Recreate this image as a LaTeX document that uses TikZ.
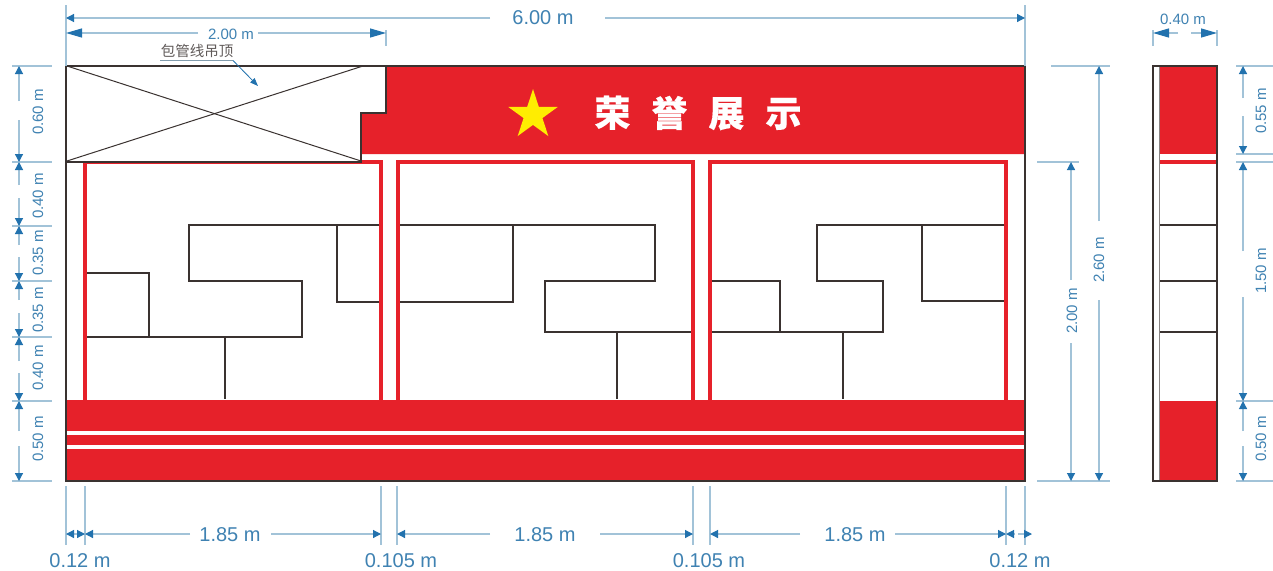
\documentclass[tikz,border=0pt]{standalone}
\usepackage{fontspec}
\setmainfont{Liberation Sans}
\newfontfamily\cjk{Noto Sans CJK SC}
\newfontfamily\cjkheavy[BoldFeatures={FakeBold=0.4}]{Noto Sans CJK SC}
\usetikzlibrary{arrows.meta,shapes.geometric}
\definecolor{signred}{HTML}{E6212A}
\definecolor{ink}{HTML}{3A3230}
\definecolor{dimline}{HTML}{A2C3D8}
\definecolor{dimhead}{HTML}{2272AE}
\definecolor{dimtext}{HTML}{3F82B2}
\tikzset{
  x=1pt,y=-1pt,
  dimln/.style={draw=dimline,line width=1.2pt},
  head/.style={-{Triangle[length=8pt,width=8pt,color=dimhead]}},
  bighead/.style={-{Triangle[length=16pt,width=9pt,color=dimhead]}},
  extl/.style={draw=dimline,line width=1.1pt},
  bigtxt/.style={text=dimtext,font=\fontsize{20}{20}\selectfont,inner sep=0pt},
  smalltxt/.style={text=dimtext,font=\fontsize{15}{15}\selectfont,inner sep=0pt},
  vtxt/.style={smalltxt,rotate=90},
  outline/.style={draw=ink,line width=2.7pt},
  shelf/.style={draw=ink,line width=2.5pt},
  frame/.style={draw=signred,line width=4.5pt},
  stripe/.style={fill=white,draw=none}
}
% id, x, y1, y2, gap start, gap end: a two-part vertical dimension line
\newcommand\vdimline[6]{%
  \coordinate (#1a) at (#2,#3);
  \coordinate (#1b) at (#2,#5);
  \coordinate (#1c) at (#2,#6);
  \coordinate (#1d) at (#2,#4);
  \draw[dimln,head] (#1b) -- (#1a);
  \draw[dimln,head] (#1c) -- (#1d);
}
% id, y, x1, x2, gap start, gap end, style
\newcommand\hdimline[7]{%
  \coordinate (#1a) at (#3,#2);
  \coordinate (#1b) at (#5,#2);
  \coordinate (#1c) at (#6,#2);
  \coordinate (#1d) at (#4,#2);
  \draw[dimln,#7] (#1b) -- (#1a);
  \draw[dimln,#7] (#1c) -- (#1d);
}
% id, x1, y1, x2, y2: extension line
\newcommand\extline[5]{%
  \coordinate (#1s) at (#2,#3);
  \coordinate (#1e) at (#4,#5);
  \draw[extl] (#1s) -- (#1e);
}
\begin{document}
\begin{tikzpicture}
\useasboundingbox[fill=white] (0,0) rectangle (1273,570);
% ---------- main elevation
\fill[signred] (386,66) -- (1025,66) -- (1025,154) -- (361,154) -- (361,113) -- (386,113) -- cycle;
\draw[frame] (85,400) -- (85,162) -- (381,162) -- (381,400);
\draw[frame] (398,400) -- (398,162) -- (693,162) -- (693,400);
\draw[frame] (710,400) -- (710,162) -- (1006,162) -- (1006,400);
\fill[signred] (66,400) rectangle (1025,481);
\fill[stripe] (67,431) rectangle (1024,435);
\fill[stripe] (67,445) rectangle (1024,449);
% shelves, bay 1
\draw[shelf] (87,273) -- (149,273) -- (149,337);
\draw[shelf] (379,225) -- (189,225) -- (189,281) -- (302,281) -- (302,337) -- (87,337);
\draw[shelf] (337,225) -- (337,302) -- (379,302);
\draw[shelf] (225,337) -- (225,399);
% shelves, bay 2
\draw[shelf] (400,225) -- (655,225) -- (655,281) -- (545,281) -- (545,332) -- (691,332);
\draw[shelf] (513,225) -- (513,302) -- (400,302);
\draw[shelf] (617,332) -- (617,399);
% shelves, bay 3
\draw[shelf] (1004,225) -- (817,225) -- (817,281) -- (883,281) -- (883,332) -- (712,332);
\draw[shelf] (712,281) -- (780,281) -- (780,332);
\draw[shelf] (922,225) -- (922,301) -- (1004,301);
\draw[shelf] (843,332) -- (843,399);
% ceiling box
\draw[outline,fill=white] (66,66) -- (386,66) -- (386,113) -- (361,113) -- (361,162) -- (66,162) -- cycle;
\draw[ink,line width=1pt] (67,66) -- (361,161);
\draw[ink,line width=1pt] (67,161) -- (363,66);
\draw[outline] (66,66) rectangle (1025,481);
% title
\node[star,star points=5,star point ratio=2.62,fill=yellow!95!orange,draw=none,minimum size=52pt,inner sep=0pt] (star) at (533,115) {};
\node[text=white,inner sep=0pt,font=\cjkheavy\bfseries\fontsize{36}{36}\selectfont] (title) at (698,113) {荣\hspace{21pt}誉\hspace{21pt}展\hspace{21pt}示};
% ---------- side elevation
\fill[signred] (1160,66) rectangle (1216,154);
\fill[signred] (1160,160) rectangle (1216,164);
\fill[signred] (1160,401) rectangle (1216,481);
\draw[shelf] (1160,225) -- (1216,225);
\draw[shelf] (1160,281) -- (1216,281);
\draw[shelf] (1160,332) -- (1216,332);
\draw[ink!60,line width=1pt] (1159.5,66) -- (1159.5,481);
\draw[outline] (1153,66) rectangle (1217,481);
% ---------- extension lines
\extline{xa}{66}{5}{66}{66}
\extline{xb}{1025}{5}{1025}{66}
\extline{xc}{386}{30}{386}{46}
\extline{xd}{1153}{30}{1153}{46}
\extline{xe}{1217}{30}{1217}{46}
\foreach \yy in {66,162,226,281,337,401,481} {\draw[extl] (12,\yy) -- (52,\yy);}
\foreach \xx in {66,85,381,397,693,710,1006,1025} {\draw[extl] (\xx,486) -- (\xx,545);}
\extline{xf}{1051}{66}{1110}{66}
\extline{xg}{1037}{162}{1079}{162}
\extline{xh}{1037}{481}{1110}{481}
\foreach \yy in {66,154,162,401,481} {\draw[extl] (1236,\yy) -- (1273,\yy);}
% ---------- horizontal dimensions
\hdimline{ha}{18}{66}{1025}{490}{605}{head}
\node[bigtxt] (tha) at (543,18) {6.00 m};
\hdimline{hb}{33}{66}{386}{198}{258}{bighead}
\node[smalltxt] (thb) at (231,34) {2.00 m};
\hdimline{hc}{33}{1153}{1217}{1178}{1191}{bighead}
\node[smalltxt] (thc) at (1183,19) {0.40 m};
% bottom
\coordinate (b1) at (66,534); \coordinate (b1t) at (78,534);
\draw[dimln,head] (b1t) -- (b1);
\coordinate (b2) at (85,534); \coordinate (b2t) at (79,534);
\draw[dimln,head] (b2t) -- (b2);
\hdimline{hd}{534}{85}{381}{190}{271}{head}
\hdimline{he}{534}{397}{693}{490}{600}{head}
\hdimline{hf}{534}{710}{1006}{800}{895}{head}
\coordinate (b3) at (1006,534); \coordinate (b3t) at (1014,534);
\draw[dimln,head] (b3t) -- (b3);
\coordinate (b4) at (1032,534); \coordinate (b4t) at (1018,534);
\draw[dimln,head] (b4t) -- (b4);
\node[bigtxt] (tb1) at (230,535) {1.85 m};
\node[bigtxt] (tb2) at (545,535) {1.85 m};
\node[bigtxt] (tb3) at (855,535) {1.85 m};
\node[bigtxt] (tb4) at (80,561) {0.12 m};
\node[bigtxt] (tb5) at (401,561) {0.105 m};
\node[bigtxt] (tb6) at (709,561) {0.105 m};
\node[bigtxt] (tb7) at (1020,561) {0.12 m};
% ---------- left vertical dimensions
\vdimline{la}{19}{66}{162}{101}{120}
\vdimline{lb}{19}{162}{226}{185}{198}
\vdimline{lc}{19}{226}{281}{245}{257}
\vdimline{ld}{19}{281}{337}{300}{313}
\vdimline{le}{19}{337}{401}{361}{373}
\vdimline{lf}{19}{401}{481}{431}{446}
\node[vtxt] (tla) at (38,112) {0.60 m};
\node[vtxt] (tlb) at (38,196) {0.40 m};
\node[vtxt] (tlc) at (38,253) {0.35 m};
\node[vtxt] (tld) at (38,310) {0.35 m};
\node[vtxt] (tle) at (38,368) {0.40 m};
\node[vtxt] (tlf) at (38,439) {0.50 m};
% ---------- right vertical dimensions
\vdimline{ra}{1099}{66}{481}{221}{300}
\vdimline{rb}{1071}{162}{481}{280}{343}
\node[vtxt] (tra) at (1099,260) {2.60 m};
\node[vtxt] (trb) at (1072,311) {2.00 m};
\vdimline{sa}{1243}{66}{154}{98}{116}
\vdimline{sb}{1243}{162}{401}{251}{297}
\vdimline{sc}{1243}{401}{481}{431}{446}
\node[vtxt] (tsa) at (1261,111) {0.55 m};
\node[vtxt] (tsb) at (1261,271) {1.50 m};
\node[vtxt] (tsc) at (1261,439) {0.50 m};
% ---------- callout
\node[text=ink!80,inner sep=0pt,font=\cjk\fontsize{14.5}{14.5}\selectfont] (cal) at (197,51) {包管线吊顶};
\coordinate (calA) at (160,60.5);
\coordinate (calB) at (233,60.5);
\coordinate (calC) at (258,86);
\draw[dimln,draw=dimline!80!black] (calA) -- (calB);
\draw[line width=0.8pt,draw=dimhead,-{Triangle[length=8pt,width=6pt,color=dimhead]}] (calB) -- (calC);
\end{tikzpicture}
\end{document}
